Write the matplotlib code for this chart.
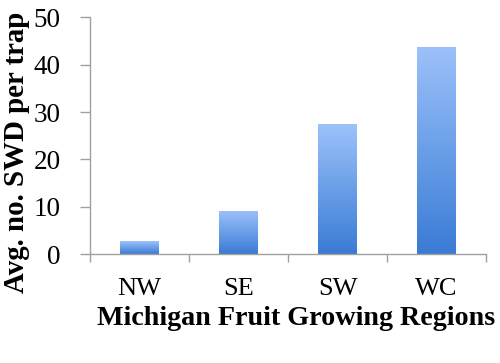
import matplotlib
matplotlib.use("Agg")
import matplotlib.pyplot as plt
import numpy as np
from matplotlib.colors import LinearSegmentedColormap

regions = ["NW", "SE", "SW", "WC"]
avg_swd = [2.7, 9.2, 27.4, 43.8]
yticks = [0, 10, 20, 30, 40, 50]
xlabel = "Michigan Fruit Growing Regions"
ylabel = "Avg. no. SWD per trap"

plt.rcParams['font.family'] = ['Liberation Serif', 'DejaVu Serif']

W, H = 500, 363
fig = plt.figure(figsize=(W / 100, H / 100), dpi=100)
ax = fig.add_axes([0.18, 0.3, 0.792, 0.652])

cmap = LinearSegmentedColormap.from_list("g", ["#3A7BD5", "#6A9FE8", "#9DC1FA"])
x = np.arange(len(regions))
bars = ax.bar(x, avg_swd, width=0.39, color="none", edgecolor="none")
grad = np.linspace(0, 1, 256).reshape(-1, 1)
for b in bars:
    x0, y0 = b.get_x(), b.get_y()
    w, h = b.get_width(), b.get_height()
    im = ax.imshow(grad, cmap=cmap, origin="lower", aspect="auto",
                   extent=[x0, x0 + w, y0, y0 + h], zorder=2)
    im.set_clip_path(b)

ax.set_xlim(-0.5, len(regions) - 0.5)
ax.set_ylim(0, 50)
ax.set_yticks(yticks)
ax.set_yticklabels([str(t) for t in yticks], fontsize=19.5)
ax.set_xticks(x)
ax.set_xticklabels(regions, fontsize=19)
ax.set_xticks(np.arange(-0.5, len(regions)), minor=True)
ax.tick_params(axis="x", which="major", length=0, pad=17)
ax.tick_params(axis="x", which="minor", length=6, color="#a0a0a0", width=1)
ax.tick_params(axis="y", length=7, color="#a0a0a0", width=1, pad=14)

for s in ["top", "right"]:
    ax.spines[s].set_visible(False)
for s in ["left", "bottom"]:
    ax.spines[s].set_color("#a0a0a0")
    ax.spines[s].set_linewidth(1)

renderer = fig.canvas.get_renderer()

# x label: fit to ~398 px wide, left at 97 px, baseline at 325 px from top
tx = fig.text(97 / W, 1 - 325 / H, xlabel, fontsize=20, fontweight="bold",
              ha="left", va="baseline")
ext = tx.get_window_extent(renderer)
tx.set_fontsize(20 * 398 / ext.width)

# y label: fit to ~281 px long, centred at y=152 px, right edge at 30 px
ty = fig.text(30 / W, 1 - 152 / H, ylabel, fontsize=20, fontweight="bold",
              rotation=90, ha="right", va="center")
ext = ty.get_window_extent(renderer)
ty.set_fontsize(20 * 281 / ext.height)

fig.savefig("out.png", dpi=100)
